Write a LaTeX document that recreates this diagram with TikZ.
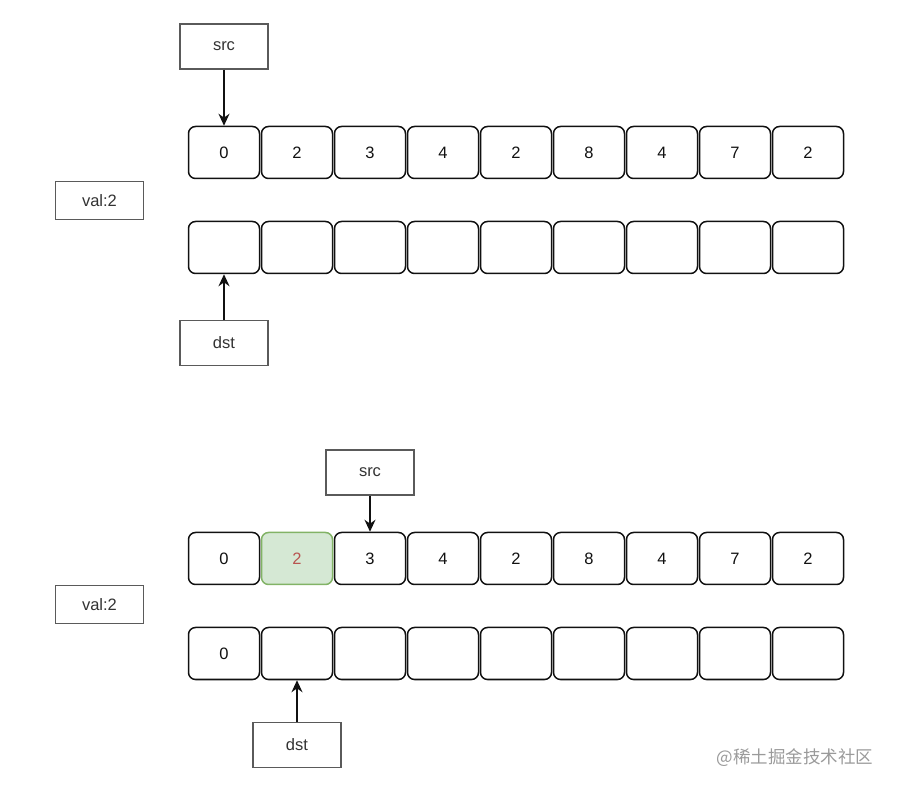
\documentclass[tikz,border=0pt]{standalone}
\usepackage{fontspec}
\setmainfont{Liberation Sans}
\newfontfamily\cjkfont{Noto Sans CJK SC}
\usetikzlibrary{arrows.meta,positioning}
\definecolor{Ink}{HTML}{111111}
\definecolor{LabelInk}{HTML}{333333}
\definecolor{LabelEdge}{HTML}{5A5A5A}
\definecolor{MovedFill}{HTML}{D5E8D4}
\definecolor{MovedEdge}{HTML}{82B366}
\definecolor{MovedText}{HTML}{B85450}
\definecolor{MarkInk}{HTML}{9A9A9A}
\tikzset{
  cell/.style={draw=Ink, fill=white, rounded corners=7pt, line width=1.5pt,
    minimum width=71pt, minimum height=52pt, inner sep=0pt,
    text=Ink, font=\fontsize{16.5}{19}\selectfont},
  moved cell/.style={cell, draw=MovedEdge, fill=MovedFill, text=MovedText},
  pointer box/.style={draw=LabelEdge, fill=white, line width=1.7pt,
    minimum width=88pt, minimum height=45pt, inner sep=0pt,
    text=LabelInk, font=\fontsize{16.5}{19}\selectfont},
  value box/.style={pointer box, minimum height=38pt},
  pointer/.style={-{Stealth[length=12pt,width=11pt]}, draw=Ink, line width=1.5pt},
}
\newcommand{\cellgap}{0.5pt}

\begin{document}
\begin{tikzpicture}[x=1pt, y=-1pt, node distance=\cellgap]
  \useasboundingbox (0,0) rectangle (898,791);

  % first step: both pointers at the start
  \node[cell] (srcA1) at (224,152.5) {0};
  \node[cell, right=of srcA1] (srcA2) {2};
  \node[cell, right=of srcA2] (srcA3) {3};
  \node[cell, right=of srcA3] (srcA4) {4};
  \node[cell, right=of srcA4] (srcA5) {2};
  \node[cell, right=of srcA5] (srcA6) {8};
  \node[cell, right=of srcA6] (srcA7) {4};
  \node[cell, right=of srcA7] (srcA8) {7};
  \node[cell, right=of srcA8] (srcA9) {2};

  \node[cell] (dstA1) at (224,247.5) {};
  \node[cell, right=of dstA1] (dstA2) {};
  \node[cell, right=of dstA2] (dstA3) {};
  \node[cell, right=of dstA3] (dstA4) {};
  \node[cell, right=of dstA4] (dstA5) {};
  \node[cell, right=of dstA5] (dstA6) {};
  \node[cell, right=of dstA6] (dstA7) {};
  \node[cell, right=of dstA7] (dstA8) {};
  \node[cell, right=of dstA8] (dstA9) {};

  \node[pointer box] (srcPtrA) at (224,46.5) {src};
  \node[pointer box] (dstPtrA) at (224,343) {dst};
  \node[value box] (valA) at (99.5,200.5) {val:2};

  \draw[pointer] (srcPtrA.south) -- (srcA1.north);
  \draw[pointer] (dstPtrA.north) -- (dstA1.south);

  % second step: the matching value is skipped
  \node[cell] (srcB1) at (224,558.5) {0};
  \node[moved cell, right=of srcB1] (srcB2) {2};
  \node[cell, right=of srcB2] (srcB3) {3};
  \node[cell, right=of srcB3] (srcB4) {4};
  \node[cell, right=of srcB4] (srcB5) {2};
  \node[cell, right=of srcB5] (srcB6) {8};
  \node[cell, right=of srcB6] (srcB7) {4};
  \node[cell, right=of srcB7] (srcB8) {7};
  \node[cell, right=of srcB8] (srcB9) {2};

  \node[cell] (dstB1) at (224,653.5) {0};
  \node[cell, right=of dstB1] (dstB2) {};
  \node[cell, right=of dstB2] (dstB3) {};
  \node[cell, right=of dstB3] (dstB4) {};
  \node[cell, right=of dstB4] (dstB5) {};
  \node[cell, right=of dstB5] (dstB6) {};
  \node[cell, right=of dstB6] (dstB7) {};
  \node[cell, right=of dstB7] (dstB8) {};
  \node[cell, right=of dstB8] (dstB9) {};

  \node[pointer box] (srcPtrB) at (370,472.5) {src};
  \node[pointer box] (dstPtrB) at (297,745) {dst};
  \node[value box] (valB) at (99.5,604.5) {val:2};

  \draw[pointer] (srcPtrB.south) -- (srcB3.north);
  \draw[pointer] (dstPtrB.north) -- (dstB2.south);

  \node[text=MarkInk, font=\cjkfont\fontsize{17.5}{20}\selectfont, anchor=east]
    (watermark) at (877,758) {@稀土掘金技术社区};
\end{tikzpicture}
\end{document}
